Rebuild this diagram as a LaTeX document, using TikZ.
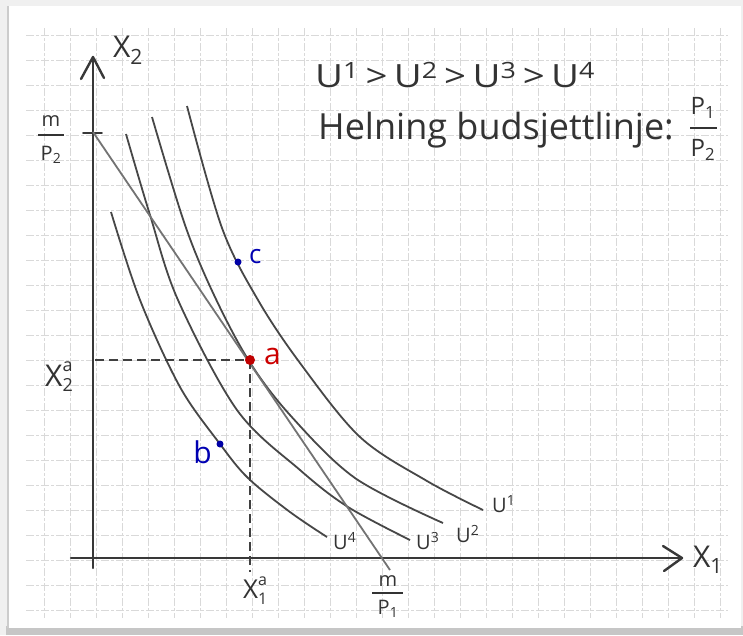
\documentclass[tikz,border=0pt]{standalone}
\usepackage{fontspec}
\setmainfont{Open Sans}
\usetikzlibrary{arrows.meta}
\begin{document}
\begin{tikzpicture}[x=1pt,y=-1pt,
  gridline/.style={draw=gray!30, line width=0.8pt, dash pattern=on 8pt off 2pt on 3pt off 2pt},
  icurve/.style={draw=black!72, line width=1.8pt},
  budget/.style={draw=black!55, line width=1.8pt},
  axisline/.style={draw=black!78, line width=2.4pt, line cap=round},
  guide/.style={draw=black!75, line width=1.6pt, dash pattern=on 9pt off 5pt},
  hand/.style={font=\fontsize{30}{30}\selectfont, text=black!80, inner sep=0pt},
  small/.style={font=\fontsize{20}{20}\selectfont, text=black!80, inner sep=0pt},
  fracbar/.style={draw=black!80, line width=1.4pt},
  bluept/.style={fill=blue!65!black, draw=none},
  redpt/.style={fill=red!75!black, draw=none}
]
\useasboundingbox (0,0) rectangle (743,635);
% paper
\fill[gray!12] (0,0) rectangle (743,635);
\fill[gray!45] (6,626) rectangle (743,635);
\fill[white] (8,6) rectangle (741,628);
\draw[gray!40, line width=1.2pt] (8,628) -- (8,6);
% grid
\foreach \i in {0,...,26} \draw[gridline] ({44+26*\i},28) -- ({44+26*\i},618);
\foreach \j in {0,...,23} \draw[gridline] (26,{35+25*\j}) -- (728,{35+25*\j});

% axes
\coordinate (O) at (93,558);
\coordinate (ybot) at (93,568);
\coordinate (ytop) at (93,57);
\coordinate (xleft) at (71,558);
\coordinate (xright) at (682,558);
\draw[axisline] (ybot) -- (ytop);
\draw[axisline] (xleft) -- (xright);
\draw[axisline, line join=round] (81,79) -- (ytop) -- (104,78);
\draw[axisline, line join=round] (663,546) -- (xright) -- (664,571);
\node[hand] (X2) at (128,50) {X\textsubscript{2}};
\node[hand] (X1) at (708,560) {X\textsubscript{1}};

% intercept m/p2
\coordinate (tickL) at (83,133);
\coordinate (tickR) at (102,133);
\draw[axisline, line width=1.6pt] (tickL) -- (tickR);
\node[small] (m2) at (51,121) {m};
\coordinate (b2l) at (38,135); \coordinate (b2r) at (64,135);
\draw[fracbar] (b2l) -- (b2r);
\node[small] (p2) at (51,155) {P\textsubscript{2}};

% intercept m/p1
\node[small] (m1) at (388,581) {m};
\coordinate (b1l) at (372,593); \coordinate (b1r) at (403,593);
\draw[fracbar] (b1l) -- (b1r);
\node[small] (p1) at (388,609) {P\textsubscript{1}};

% indifference curves
\draw[icurve] plot[smooth, tension=0.55] coordinates {(187,106) (222,228) (258,300) (300,363) (360,437) (427,481) (483,510)};
\draw[icurve] plot[smooth, tension=0.55] coordinates {(152,117) (185,225) (214,295) (249,361) (290,415) (355,478) (443,523)};
\draw[icurve] plot[smooth, tension=0.55] coordinates {(126,134) (150,215) (178,300) (237,410) (300,470) (348,507) (410,540)};
\draw[icurve] plot[smooth, tension=0.55] coordinates {(111,212) (140,300) (180,387) (220,444) (248,478) (290,512) (327,537)};

% budget line
\coordinate (bstart) at (93,132);
\coordinate (bend) at (390,570);
\draw[budget] (bstart) -- (bend);

% guide lines
\coordinate (A) at (250,360);
\coordinate (Ay) at (95,360);
\coordinate (Ax) at (250,572);
\draw[guide] (Ay) -- (A);
\draw[guide] (A) -- (Ax);
\node[hand, anchor=base west] (X2a) at (45,386) {X\makebox[0pt][l]{\raisebox{0.9ex}{\fontsize{18}{18}\selectfont a}}\raisebox{-0.35ex}{\fontsize{18}{18}\selectfont 2}};
\node[small, font=\fontsize{26}{26}\selectfont, anchor=base west] (X1a) at (243,598) {X\makebox[0pt][l]{\raisebox{0.9ex}{\fontsize{16}{16}\selectfont a}}\raisebox{-0.45ex}{\fontsize{16}{16}\selectfont 1}};

% points
\fill[redpt] (A) circle (5);
\node[hand, text=red!80!black, anchor=west] (la) at (264,356) {a};
\coordinate (C) at (238,262);
\fill[bluept] (C) circle (3.5);
\node[small, font=\fontsize{26}{26}\selectfont, text=blue!70!black, anchor=west] (lc) at (249,257) {c};
\coordinate (B) at (220,444);
\fill[bluept] (B) circle (3.5);
\node[hand, text=blue!70!black, anchor=east] (lb) at (212,452) {b};

% curve labels
\node[small, anchor=west] (U1) at (492,504) {U\textsuperscript{1}};
\node[small, anchor=west] (U2) at (456,534) {U\textsuperscript{2}};
\node[small, anchor=west] (U3) at (416,541) {U\textsuperscript{3}};
\node[small, anchor=west] (U4) at (333,541) {U\textsuperscript{4}};

% text
\node[hand, anchor=west, font=\fontsize{32}{32}\selectfont] (order) at (315,75) {\scalebox{1.2}[1]{U\textsuperscript{1}\,>\,U\textsuperscript{2}\,>\,U\textsuperscript{3}\,>\,U\textsuperscript{4}}};
\node[hand, anchor=west, font=\fontsize{36}{36}\selectfont] (slope) at (318,130) {Helning budsjettlinje:};
\node[small, font=\fontsize{24}{24}\selectfont] (fp1) at (703,108) {P\textsubscript{1}};
\coordinate (fbl) at (690,128); \coordinate (fbr) at (717,128);
\draw[fracbar] (fbl) -- (fbr);
\node[small, font=\fontsize{24}{24}\selectfont] (fp2) at (703,150) {P\textsubscript{2}};
\end{tikzpicture}
\end{document}
